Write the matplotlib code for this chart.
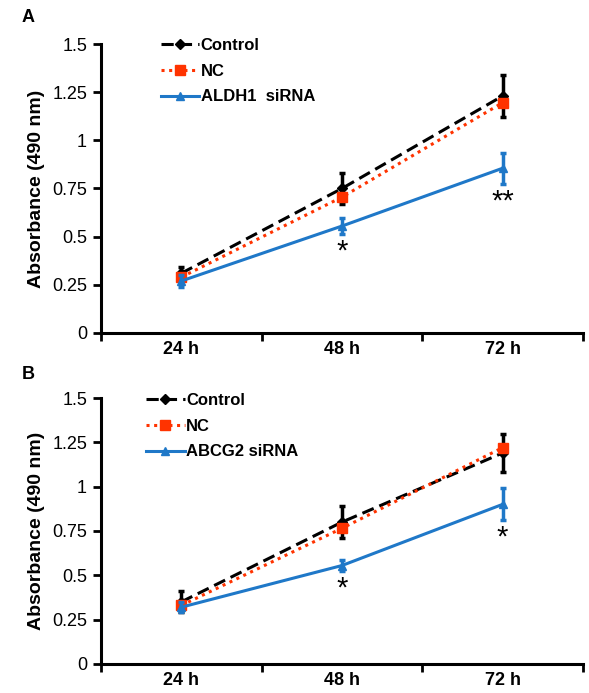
import numpy as np
import matplotlib
matplotlib.use("Agg")
import matplotlib.pyplot as plt
from matplotlib.lines import Line2D

plt.rcParams['font.family'] = ['Liberation Sans', 'DejaVu Sans']

times = ["24 h", "48 h", "72 h"]

# panel A
a_control = [0.31, 0.75, 1.23]
a_control_err = [0.03, 0.08, 0.11]
a_nc = [0.29, 0.705, 1.195]
a_nc_err = [0.02, 0.05, 0.07]
a_si = [0.27, 0.555, 0.855]
a_si_err = [0.03, 0.04, 0.08]
a_stars = ["", "*", "**"]

# panel B
b_control = [0.35, 0.80, 1.19]
b_control_err = [0.06, 0.09, 0.11]
b_nc = [0.33, 0.765, 1.22]
b_nc_err = [0.03, 0.05, 0.06]
b_si = [0.32, 0.555, 0.90]
b_si_err = [0.03, 0.03, 0.09]
b_stars = ["", "*", "*"]

black = "#000000"
red = "#FF3300"
blue = "#1F78C8"
dash = (0, (4, 2))
dot = (0, (1, 1.5))

fig = plt.figure(figsize=(5.89, 6.93), dpi=100)
axA = fig.add_axes([0.1715, 0.5195, 0.818, 0.417])
axB = fig.add_axes([0.1715, 0.042, 0.818, 0.3836])


def draw(ax, control, control_err, nc, nc_err, si, si_err, si_name, stars, letter, legx):
    x = np.arange(1, len(times) + 1)
    ax.errorbar(x, control, yerr=control_err, color=black, ls=dash, lw=2.2,
                marker="D", ms=5, capsize=2.5, capthick=2.5, elinewidth=2.5, zorder=3)
    ax.errorbar(x, nc, yerr=nc_err, color=red, ls=dot, lw=2.2,
                marker="s", ms=7, capsize=0, elinewidth=0, ecolor=black, zorder=4)
    ax.errorbar(x, si, yerr=si_err, color=blue, ls="-", lw=2.2,
                marker="^", ms=6, capsize=2.5, capthick=2.5, elinewidth=2.5, zorder=5)
    for xi, yi, ei, s in zip(x, si, si_err, stars):
        if s:
            ax.text(xi, yi - ei - 0.02, s, ha="center", va="top", fontsize=21)
    ax.set_xlim(0.5, 3.5)
    ax.set_ylim(0, 1.5)
    ax.set_yticks([0, 0.25, 0.5, 0.75, 1, 1.25, 1.5])
    ax.set_yticklabels(["0", "0.25", "0.5", "0.75", "1", "1.25", "1.5"], fontsize=13)
    ax.set_xticks(x)
    ax.set_xticklabels(times, fontsize=13, fontweight="bold")
    ax.set_xticks([0.5, 1.5, 2.5, 3.5], minor=True)
    ax.tick_params(axis="x", which="major", length=0, pad=6)
    ax.tick_params(axis="x", which="minor", length=6, width=2)
    ax.tick_params(axis="y", length=6, width=2, pad=4)
    for side in ["top", "right"]:
        ax.spines[side].set_visible(False)
    for side in ["left", "bottom"]:
        ax.spines[side].set_linewidth(2.2)
    ax.set_ylabel("Absorbance (490 nm)", fontsize=14, fontweight="bold", labelpad=5)
    handles = [
        Line2D([], [], color=black, ls=dash, lw=2.2, marker="D", ms=5),
        Line2D([], [], color=red, ls=dot, lw=2.2, marker="s", ms=7),
        Line2D([], [], color=blue, ls="-", lw=2.2, marker="^", ms=6),
    ]
    ax.legend(handles, ["Control", "NC", si_name], loc="upper left",
              bbox_to_anchor=(legx, 1.045), frameon=False,
              prop={"size": 12, "weight": "bold"}, handlelength=2.3,
              handletextpad=0.1, labelspacing=0.65, borderaxespad=0)
    ax.text(-0.165, 1.09, letter, transform=ax.transAxes, fontsize=13,
            fontweight="bold", ha="left", va="center")


draw(axA, a_control, a_control_err, a_nc, a_nc_err, a_si, a_si_err,
     "ALDH1  siRNA", a_stars, "A", 0.11)
draw(axB, b_control, b_control_err, b_nc, b_nc_err, b_si, b_si_err,
     "ABCG2 siRNA", b_stars, "B", 0.08)

fig.savefig("out.png", dpi=100)
